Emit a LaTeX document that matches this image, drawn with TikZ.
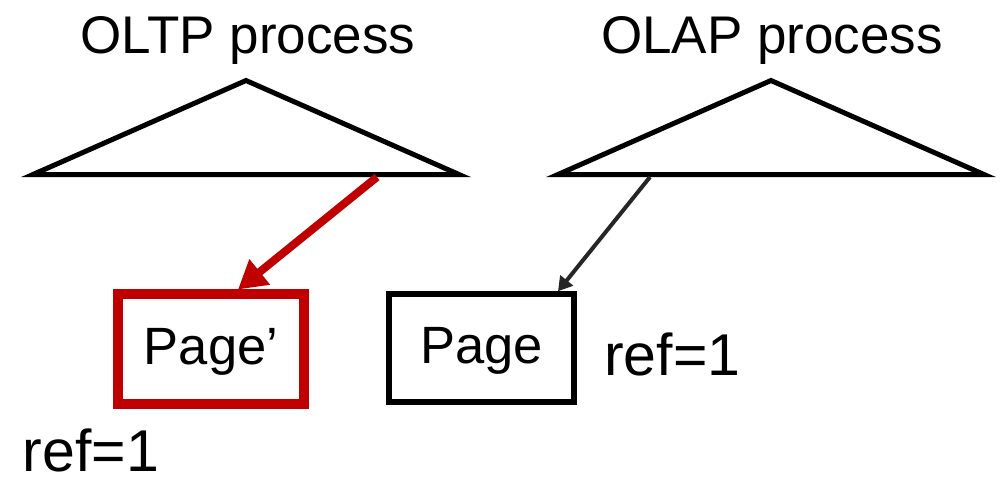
\documentclass[tikz,border=0pt]{standalone}
\usepackage{fontspec}
\setmainfont{Liberation Sans}
\usetikzlibrary{arrows.meta}
\definecolor{copyred}{HTML}{C00000}
\definecolor{linkgray}{HTML}{262626}
\begin{document}
\begin{tikzpicture}[x=1pt,y=-1pt,
  tree/.style={line width=5pt, line join=miter},
  title/.style={font=\fontsize{53}{60}\selectfont, anchor=base, inner sep=0pt},
  pagebox/.style={draw, inner sep=0pt, font=\fontsize{52.5}{60}\selectfont,
    text height=37pt, text depth=6pt},
  refnote/.style={font=\fontsize{59}{66}\selectfont, anchor=base west, inner sep=0pt},
]
\useasboundingbox (0,0) rectangle (1008,477);

% process titles
\node[title] (oltp) at (248,53) {OLTP process};
\node[title] (olap) at (772,53) {OLAP process};

% page trees
\coordinate (oltp-l) at (33,174.5);
\coordinate (oltp-t) at (246,80.5);
\coordinate (oltp-r) at (459,174.5);
\draw[tree] (oltp-l) -- (oltp-t) -- (oltp-r) -- cycle;

\coordinate (olap-l) at (558,174.5);
\coordinate (olap-t) at (771,80.5);
\coordinate (olap-r) at (984,174.5);
\draw[tree] (olap-l) -- (olap-t) -- (olap-r) -- cycle;

% pages
\node[pagebox, draw=copyred, line width=10pt, minimum width=186pt, minimum height=110pt]
  (newpage) at (211,348.5) {Page’};
\node[pagebox, line width=5.5pt, minimum width=185pt, minimum height=108pt]
  (page) at (481.5,348) {Page};

% reference counts
\node[refnote] (newref) at (22.5,471) {ref=1};
\node[refnote] (pageref) at (604,375) {ref=1};

% links from the trees to the pages
\coordinate (oltp-src) at (377,177);
\coordinate (olap-src) at (650,177);
\draw[line width=8pt, copyred, -{Triangle[length=28pt,width=31pt]}]
  (oltp-src) -- ([xshift=27pt,yshift=-1pt]newpage.north);
\draw[line width=4pt, linkgray, -{Triangle[length=14pt,width=16pt]}]
  (olap-src) -- ([xshift=76.5pt]page.north);
\end{tikzpicture}
\end{document}
